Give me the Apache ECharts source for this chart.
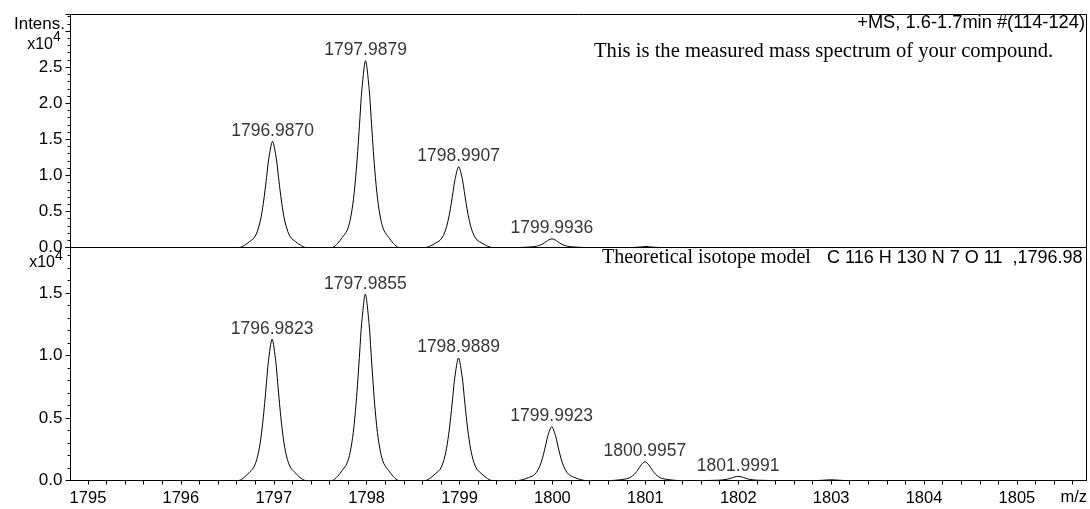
<!DOCTYPE html>
<html>
<head>
<meta charset="utf-8">
<script src="https://cdn.jsdelivr.net/npm/echarts@6/dist/echarts.min.js"></script>
<style>
  html, body { margin: 0; padding: 0; background: #ffffff; }
  #chart { width: 1090px; height: 509px; }
</style>
</head>
<body>
<div id="chart"></div>
<script>
// m/z axis
const mzTickLabels = [1795, 1796, 1797, 1798, 1799, 1800, 1801, 1802, 1803, 1804, 1805];
const mzRange = [1794.812, 1805.749];

// Measured profile spectrum (m/z, intensity), one row per isotope peak
const measuredMz = [
  1794.812,
  1796.627, 1796.687, 1796.737, 1796.787, 1796.822, 1796.857, 1796.887, 1796.907, 1796.927, 1796.947, 1796.9870,
  1797.027, 1797.047, 1797.067, 1797.087, 1797.117, 1797.152, 1797.187, 1797.237, 1797.287, 1797.347,
  1797.628, 1797.688, 1797.738, 1797.788, 1797.823, 1797.858, 1797.888, 1797.908, 1797.928, 1797.948, 1797.9879,
  1798.028, 1798.048, 1798.068, 1798.088, 1798.118, 1798.153, 1798.188, 1798.238, 1798.288, 1798.348,
  1798.631, 1798.691, 1798.741, 1798.791, 1798.826, 1798.861, 1798.891, 1798.911, 1798.931, 1798.951, 1798.9907,
  1799.031, 1799.051, 1799.071, 1799.091, 1799.121, 1799.156, 1799.191, 1799.241, 1799.291, 1799.351,
  1799.634, 1799.694, 1799.744, 1799.794, 1799.829, 1799.864, 1799.894, 1799.914, 1799.934, 1799.954, 1799.9936,
  1800.034, 1800.054, 1800.074, 1800.094, 1800.124, 1800.159, 1800.194, 1800.244, 1800.294, 1800.354,
  1800.850, 1800.950, 1801.006, 1801.060, 1801.160,
  1805.749
];
const measuredIntensity = [
  0,
  0, 320, 790, 1320, 2180, 3790, 6060, 8030, 10220, 12380, 14700,
  12380, 10220, 8030, 6060, 3790, 2180, 1320, 790, 320, 0,
  0, 570, 1400, 2330, 3830, 6680, 10670, 14140, 18000, 21810, 25900,
  21810, 18000, 14140, 10670, 6680, 3830, 2330, 1400, 570, 0,
  0, 250, 600, 1010, 1660, 2890, 4610, 6120, 7780, 9430, 11200,
  9430, 7780, 6120, 4610, 2890, 1660, 1010, 600, 250, 0,
  0, 26, 65, 110, 180, 310, 490, 660, 830, 1010, 1200,
  1010, 830, 660, 490, 310, 180, 110, 65, 26, 0,
  0, 70, 140, 70, 0,
  0
];

// Theoretical isotope model profile (m/z, intensity), one row per isotope peak
const theoreticalMz = [
  1794.812,
  1796.622, 1796.682, 1796.732, 1796.782, 1796.817, 1796.852, 1796.882, 1796.902, 1796.922, 1796.942, 1796.9823,
  1797.022, 1797.042, 1797.062, 1797.082, 1797.112, 1797.147, 1797.182, 1797.232, 1797.282, 1797.342,
  1797.626, 1797.686, 1797.736, 1797.786, 1797.821, 1797.856, 1797.886, 1797.906, 1797.926, 1797.946, 1797.9855,
  1798.026, 1798.046, 1798.066, 1798.086, 1798.116, 1798.151, 1798.186, 1798.236, 1798.286, 1798.346,
  1798.629, 1798.689, 1798.739, 1798.789, 1798.824, 1798.859, 1798.889, 1798.909, 1798.929, 1798.949, 1798.9889,
  1799.029, 1799.049, 1799.069, 1799.089, 1799.119, 1799.154, 1799.189, 1799.239, 1799.289, 1799.349,
  1799.632, 1799.692, 1799.742, 1799.792, 1799.827, 1799.862, 1799.892, 1799.912, 1799.932, 1799.952, 1799.9923,
  1800.032, 1800.052, 1800.072, 1800.092, 1800.122, 1800.157, 1800.192, 1800.242, 1800.292, 1800.352,
  1800.636, 1800.696, 1800.746, 1800.796, 1800.831, 1800.866, 1800.896, 1800.916, 1800.936, 1800.956, 1800.9957,
  1801.036, 1801.056, 1801.076, 1801.096, 1801.126, 1801.161, 1801.196, 1801.246, 1801.296, 1801.356,
  1801.639, 1801.699, 1801.749, 1801.799, 1801.834, 1801.869, 1801.899, 1801.919, 1801.939, 1801.959, 1801.9991,
  1802.039, 1802.059, 1802.079, 1802.099, 1802.129, 1802.164, 1802.199, 1802.249, 1802.299, 1802.359,
  1802.850, 1802.950, 1803.003, 1803.050, 1803.150,
  1805.749
];
const theoreticalIntensity = [
  0,
  0, 250, 610, 1020, 1670, 2920, 4660, 6170, 7850, 9510, 11300,
  9510, 7850, 6170, 4660, 2920, 1670, 1020, 610, 250, 0,
  0, 330, 800, 1340, 2210, 3840, 6140, 8140, 10360, 12550, 14900,
  12550, 10360, 8140, 6140, 3840, 2210, 1340, 800, 330, 0,
  0, 220, 530, 880, 1450, 2530, 4040, 5350, 6810, 8250, 9800,
  8250, 6810, 5350, 4040, 2530, 1450, 880, 530, 220, 0,
  0, 95, 230, 390, 640, 1110, 1770, 2350, 2990, 3620, 4300,
  3620, 2990, 2350, 1770, 1110, 640, 390, 230, 95, 0,
  0, 33, 80, 135, 220, 390, 620, 820, 1040, 1260, 1500,
  1260, 1040, 820, 620, 390, 220, 135, 80, 33, 0,
  0, 7, 18, 30, 49, 85, 136, 180, 230, 280, 330,
  280, 230, 180, 136, 85, 49, 30, 18, 7, 0,
  0, 40, 60, 40, 0,
  0
];

// Labelled peak centroids
const measuredPeakLabels = [1796.9870, 1797.9879, 1798.9907, 1799.9936];
const theoreticalPeakLabels = [1796.9823, 1797.9855, 1798.9889, 1799.9923, 1800.9957, 1801.9991];

const FONT = '"Liberation Sans", Arial, sans-serif';
const SERIF = '"Liberation Serif", "Times New Roman", serif';

function pairs(xs, ys) { return xs.map((x, i) => [x, ys[i]]); }
function apexPoints(labels, xs, ys) {
  return labels.map(mz => {
    const i = xs.findIndex(x => Math.abs(x - mz) < 1e-7);
    return [mz, ys[i]];
  });
}

// ticks every 0.2 m/z between the labelled integers
const mzMinorTicks = [];
mzTickLabels.forEach(v => {
  for (let k = 0; k < 5; k++) {
    const t = +(v + k * 0.2).toFixed(1);
    if (t <= mzRange[1]) mzMinorTicks.push(t);
  }
});

const yLabelStyle = { fontFamily: FONT, fontSize: 17, color: '#000', margin: 8 };
const peakLabel = {
  show: true, position: 'top', distance: 1,
  fontFamily: FONT, fontSize: 17.5, color: '#000',
  formatter: p => p.value[0].toFixed(4)
};

const chart = echarts.init(document.getElementById('chart'), null, { renderer: 'canvas' });

chart.setOption({
  animation: false,
  backgroundColor: '#ffffff',
  grid: [
    { left: 70.5, top: 14.5, width: 1016, height: 233, show: true, borderColor: '#000', borderWidth: 1, containLabel: false },
    { left: 70.5, top: 247.5, width: 1016, height: 233, show: true, borderColor: '#000', borderWidth: 1, containLabel: false }
  ],
  xAxis: [
    {
      type: 'value', gridIndex: 0, min: mzRange[0], max: mzRange[1],
      axisLine: { show: true, onZero: false, lineStyle: { color: '#000', width: 1 } },
      axisTick: { show: false }, axisLabel: { show: false }, splitLine: { show: false }
    },
    {
      type: 'value', gridIndex: 1, min: mzRange[0], max: mzRange[1],
      axisLine: { show: true, onZero: false, lineStyle: { color: '#000', width: 1 } },
      axisTick: { show: true, inside: false, length: 4, customValues: mzMinorTicks, lineStyle: { color: '#000' } },
      axisLabel: {
        show: true, customValues: mzTickLabels, fontFamily: FONT, fontSize: 16.5, color: '#000', margin: 9,
        formatter: v => String(Math.round(v))
      },
      splitLine: { show: false }
    }
  ],
  yAxis: [
    {
      type: 'value', gridIndex: 0, min: 0, max: 32300, interval: 5000,
      axisLine: { show: true, onZero: false, lineStyle: { color: '#000', width: 1 } },
      axisTick: { show: true, inside: false, length: 5, lineStyle: { color: '#000' } },
      minorTick: { show: true, splitNumber: 5, length: 3, lineStyle: { color: '#000' } },
      axisLabel: Object.assign({}, yLabelStyle, {
        showMaxLabel: false,
        formatter: v => (v > 25000 ? '' : (v / 10000).toFixed(1))
      }),
      splitLine: { show: false }
    },
    {
      type: 'value', gridIndex: 1, min: 0, max: 18640, interval: 5000,
      axisLine: { show: true, onZero: false, lineStyle: { color: '#000', width: 1 } },
      axisTick: { show: true, inside: false, length: 5, lineStyle: { color: '#000' } },
      minorTick: { show: true, splitNumber: 5, length: 3, lineStyle: { color: '#000' } },
      axisLabel: Object.assign({}, yLabelStyle, {
        showMaxLabel: false,
        formatter: v => (v > 15000 ? '' : (v / 10000).toFixed(1))
      }),
      splitLine: { show: false }
    }
  ],
  series: [
    {
      name: 'measured', type: 'line', xAxisIndex: 0, yAxisIndex: 0,
      data: pairs(measuredMz, measuredIntensity),
      showSymbol: false, symbol: 'none', smooth: 0.3,
      lineStyle: { color: '#000', width: 1 }, silent: true
    },
    {
      name: 'theoretical', type: 'line', xAxisIndex: 1, yAxisIndex: 1,
      data: pairs(theoreticalMz, theoreticalIntensity),
      showSymbol: false, symbol: 'none', smooth: 0.3,
      lineStyle: { color: '#000', width: 1 }, silent: true
    },
    {
      name: 'measured peaks', type: 'scatter', xAxisIndex: 0, yAxisIndex: 0,
      data: apexPoints(measuredPeakLabels, measuredMz, measuredIntensity),
      symbolSize: 1, itemStyle: { color: 'rgba(0,0,0,0)' }, silent: true,
      label: peakLabel
    },
    {
      name: 'theoretical peaks', type: 'scatter', xAxisIndex: 1, yAxisIndex: 1,
      data: apexPoints(theoreticalPeakLabels, theoreticalMz, theoreticalIntensity),
      symbolSize: 1, itemStyle: { color: 'rgba(0,0,0,0)' }, silent: true,
      label: peakLabel
    }
  ],
  graphic: [
    { type: 'text', x: 65, y: 24, style: { text: 'Intens.', font: '17px ' + FONT, fill: '#000', align: 'right', verticalAlign: 'middle' } },
    { type: 'text', x: 53, y: 45, style: { text: 'x10', font: '16px ' + FONT, fill: '#000', align: 'right', verticalAlign: 'middle' } },
    { type: 'text', x: 53, y: 37, style: { text: '4', font: '14px ' + FONT, fill: '#000', align: 'left', verticalAlign: 'middle' } },
    { type: 'text', x: 55, y: 263, style: { text: 'x10', font: '16px ' + FONT, fill: '#000', align: 'right', verticalAlign: 'middle' } },
    { type: 'text', x: 55, y: 256, style: { text: '4', font: '14px ' + FONT, fill: '#000', align: 'left', verticalAlign: 'middle' } },
    { type: 'text', x: 1085, y: 23, style: { text: '+MS, 1.6-1.7min #(114-124)', font: '18.3px ' + FONT, fill: '#000', align: 'right', verticalAlign: 'middle' } },
    { type: 'text', x: 594, y: 52, style: { text: 'This is the measured mass spectrum of your compound.', font: '20.6px ' + SERIF, fill: '#000', align: 'left', verticalAlign: 'middle' } },
    { type: 'text', x: 602, y: 258, style: { text: 'Theoretical isotope model', font: '20px ' + SERIF, fill: '#000', align: 'left', verticalAlign: 'middle' } },
    { type: 'text', x: 827, y: 258, style: { text: 'C 116 H 130 N 7 O 11  ,1796.98', font: '18px ' + FONT, fill: '#000', align: 'left', verticalAlign: 'middle' } },
    { type: 'text', x: 1087, y: 497, style: { text: 'm/z', font: '16.5px ' + FONT, fill: '#000', align: 'right', verticalAlign: 'middle' } }
  ]
});
</script>
</body>
</html>
